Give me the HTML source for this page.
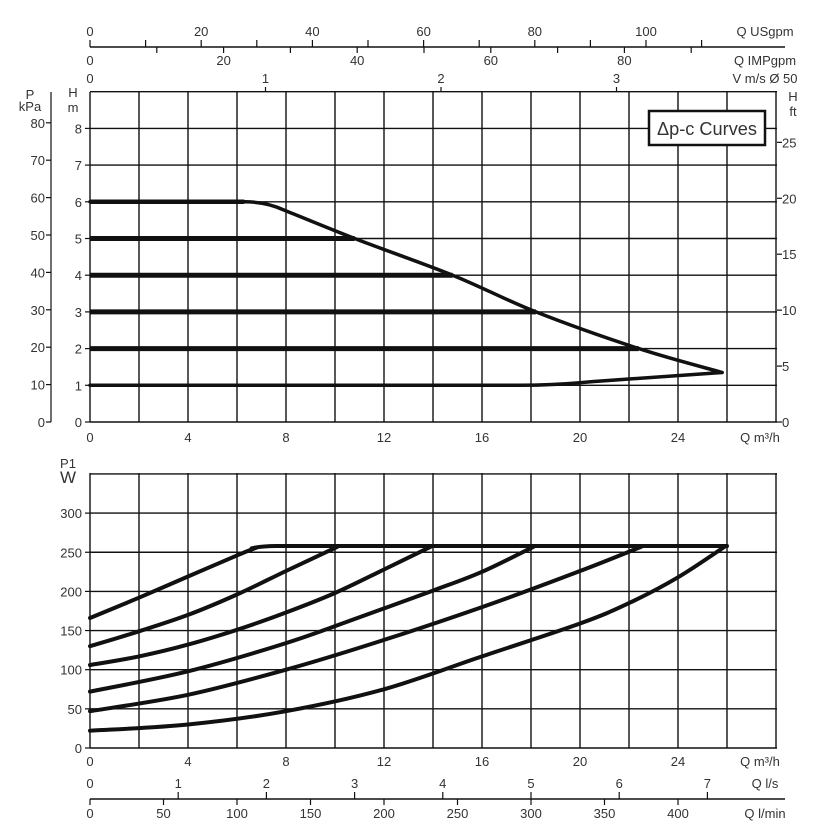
<!DOCTYPE html>
<html><head><meta charset="utf-8"><style>
html,body{margin:0;padding:0;background:#fff;}
svg{display:block;}
text{font-family:"Liberation Sans",sans-serif;font-size:13px;fill:#333;}
</style></head><body>
<svg id="s" width="840" height="840" xmlns="http://www.w3.org/2000/svg"></svg>
<script>
const s=document.getElementById('s');let h='';
const X=q=>90+q*24.5;
const YH=m=>422-m*36.7;
const YW=w=>748-w*0.783;
function line(x1,y1,x2,y2,w,c){h+=`<line x1="${x1}" y1="${y1}" x2="${x2}" y2="${y2}" stroke="${c||'#111'}" stroke-width="${w||1.4}"/>`;}
function t(x,y,str,anchor,size,extra){h+=`<text x="${x}" y="${y}" text-anchor="${anchor||'middle'}"${size?` style="font-size:${size}px"`:''} ${extra||''}>${str}</text>`;}
function sp(pts){
 let d='';
 for(let i=0;i<pts.length-1;i++){const p0=pts[i-1]||pts[i],p1=pts[i],p2=pts[i+1],p3=pts[i+2]||p2;
  const c1=[p1[0]+(p2[0]-p0[0])/6,p1[1]+(p2[1]-p0[1])/6],c2=[p2[0]-(p3[0]-p1[0])/6,p2[1]-(p3[1]-p1[1])/6];
  d+=` C${c1[0].toFixed(1)},${c1[1].toFixed(1)} ${c2[0].toFixed(1)},${c2[1].toFixed(1)} ${p2[0].toFixed(1)},${p2[1].toFixed(1)}`;}
 return d;}
function path(d,w){h+=`<path d="${d}" fill="none" stroke="#111" stroke-width="${w}" stroke-linejoin="round" stroke-linecap="round"/>`;}
function spline(pts,w){path(`M${pts[0][0]},${pts[0][1]}`+sp(pts),w);}
// top scales
line(90,47,785,47,1.4);
for(let g=0;g<=110;g+=10){const x=90+g*5.56;line(x,47,x,40,1.2);if(g%20==0)t(x,36,g);}
t(765,36,'Q USgpm');
for(let g=10;g<=90;g+=10){const x=90+g*6.68;line(x,47,x,53,1.2);}
for(let g=0;g<=80;g+=20){t(90+g*6.68,65,g);}
t(765,65,'Q IMPgpm');
for(let v=0;v<=3;v++){const x=90+v*175.5;t(x,83,v);if(v>0)line(x,92,x,87,1.2);}
t(765,83,'V m/s Ø 50');
// top grid
for(let q=0;q<=28;q+=2)line(X(q),92,X(q),422,1.4);
for(let m=0;m<=9;m++)line(90,YH(m),777,YH(m),1.4);
// left axes
line(51,92,51,422,1.2);
for(let p=0;p<=80;p+=10){const y=422-p*3.74;line(46,y,51,y,1.2);t(45,y+5,p,'end');}
t(30,99,'P');t(30,111,'kPa');
for(let m=0;m<=8;m++){line(85,YH(m),90,YH(m),1.2);t(82,YH(m)+5,m,'end');}
t(73,97,'H');t(73,112,'m');
t(793,101,'H');t(793,116,'ft');
for(let f=0;f<=25;f+=5){const y=422-f*0.3048*36.7;line(777,y,782,y,1.2);t(782,y+5,f,'start');}
for(let q=0;q<=24;q+=4)t(X(q),442,q);
t(760,442,'Q m³/h');
// top curves
[[5,10.8],[4,14.8],[3,18.2],[2,22.4]].forEach(a=>line(X(0),YH(a[0]),X(a[1]),YH(a[0]),5));
path(`M${X(0)},${YH(6)} L${X(6.3)},${YH(6)} Q${X(7.2)},${YH(6)} ${X(7.9)},${YH(5.78)}`+sp([[X(7.9),YH(5.78)],[X(10.8),YH(5)],[X(14.8),YH(4)],[X(18.2),YH(3)],[X(22.4),YH(2)],[X(25.8),YH(1.35)]]),3.5);
line(X(0),YH(6),X(6.3),YH(6),4.5);
path(`M${X(0)},${YH(1)} L${X(17.5)},${YH(1)} Q${X(19)},${YH(1)} ${X(20.5)},${YH(1.1)} L${X(25.8)},${YH(1.35)}`,3.5);
// box
h+=`<rect x="649" y="111" width="116" height="34" fill="#fff" stroke="#111" stroke-width="2.5"/>`;
t(707,135,'Δp-c Curves','middle',18,'textLength="100" lengthAdjust="spacingAndGlyphs"');
// bottom grid
for(let q=0;q<=28;q+=2)line(X(q),473,X(q),748,1.4);
for(let w=0;w<=350;w+=50)line(90,YW(w),777,YW(w),1.4);
for(let w=0;w<=300;w+=50){line(85,YW(w),90,YW(w),1.2);t(82,YW(w)+5,w,'end');}
t(68,468,'P1');t(68,483,'W','middle',17);
for(let q=0;q<=24;q+=4)t(X(q),766,q);
t(760,766,'Q m³/h');
// bottom curves
const C=[
[[0,166],[2,192],[4,219],[6,246],[6.8,256]],
[[0,130],[2,149],[4,170],[6,196],[8,226],[10.1,257]],
[[0,106],[2,117],[4,132],[6,151],[8,173],[10,198],[12,228],[13.9,257]],
[[0,72],[4,98],[8,134],[11,167],[14,201],[16,225],[18.1,257]],
[[0,47],[4,68],[8,100],[12,138],[16,180],[20,226],[22.5,257]],
[[0,22],[4,30],[8,47],[12,75],[16,117],[20,159],[22,185],[24,218],[25.9,257]]];
C.forEach(c=>spline(c.map(p=>[X(p[0]),YW(p[1])]),4));
path(`M${X(6.6)},${YW(255)} Q${X(7)},${YW(258)} ${X(7.6)},${YW(258)} L${X(26)},${YW(258)}`,4);
// bottom scales
line(90,799,785,799,1.4);
for(let v=0;v<=7;v++){const x=90+v*88.2;t(x,788,v);if(v>0)line(x,799,x,792,1.2);}
t(765,788,'Q l/s');
for(let l=0;l<=400;l+=50){const x=90+l*1.47;line(x,799,x,805,1.2);t(x,818,l);}
t(765,818,'Q l/min');
s.innerHTML=h;
</script>
</body></html>
